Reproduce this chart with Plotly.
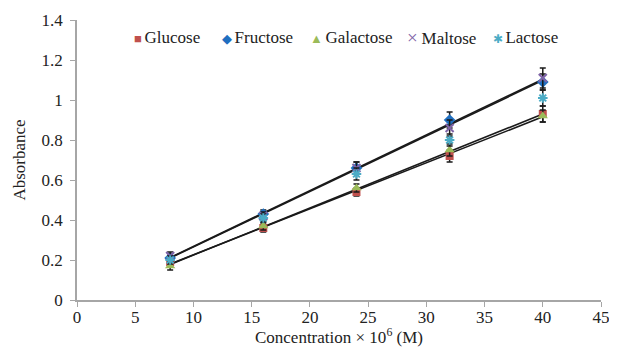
import numpy as np
import plotly.graph_objects as go

concentration = [8, 16, 24, 32, 40]
glucose = [0.19, 0.36, 0.54, 0.72, 0.93]
fructose = [0.21, 0.43, 0.66, 0.90, 1.09]
galactose = [0.17, 0.37, 0.56, 0.75, 0.92]
maltose = [0.22, 0.42, 0.66, 0.86, 1.11]
lactose = [0.20, 0.41, 0.63, 0.80, 1.01]

glucose_err = [0.02, 0.02, 0.02, 0.03, 0.04]
fructose_err = [0.02, 0.02, 0.03, 0.04, 0.04]
galactose_err = [0.02, 0.02, 0.02, 0.03, 0.03]
maltose_err = [0.02, 0.02, 0.03, 0.04, 0.05]
lactose_err = [0.02, 0.02, 0.03, 0.03, 0.04]

x_ticks = [0, 5, 10, 15, 20, 25, 30, 35, 40, 45]
y_ticks = [0, 0.2, 0.4, 0.6, 0.8, 1, 1.2, 1.4]
y_tick_labels = ["0", "0.2", "0.4", "0.6", "0.8", "1", "1.2", "1.4"]

series = [
    ("Glucose", glucose, glucose_err, "#C0504D", "square", 8, 0, "■", 13),
    ("Fructose", fructose, fructose_err, "#1F6FC0", "diamond", 9, 0, "◆", 13),
    ("Galactose", galactose, galactose_err, "#9BBB59", "triangle-up", 9, 0, "▲", 13),
    ("Maltose", maltose, maltose_err, "#7F64A8", "x-thin-open", 8, 2, "×", 19),
    ("Lactose", lactose, lactose_err, "#4BACC6", "asterisk-open", 8, 2, "✱", 12),
]
legend_x = [0.105, 0.273, 0.441, 0.626, 0.790]

FONT = "Liberation Serif, Times New Roman, Times, serif"

fig = go.Figure()

# trendlines (least squares fits, as in the spreadsheet chart)
for name, vals in [("Glucose", glucose), ("Galactose", galactose),
                   ("Fructose", fructose), ("Maltose", maltose)]:
    m, b = np.polyfit(concentration, vals, 1)
    xs = [concentration[0], concentration[-1]]
    fig.add_trace(go.Scatter(x=xs, y=[m * v + b for v in xs], mode="lines",
                             line=dict(color="#1a1a1a", width=1.6),
                             showlegend=False, hoverinfo="skip"))

for (name, vals, err, color, sym, size, lw, glyph, gsize), lx in zip(series, legend_x):
    marker = dict(color=color, symbol=sym, size=size)
    if lw:
        marker["line"] = dict(color=color, width=lw)
    fig.add_trace(go.Scatter(
        x=concentration, y=vals, mode="markers", name=name,
        marker=marker, showlegend=False,
        error_y=dict(type="data", array=err, visible=True,
                     color="#1a1a1a", thickness=1.5, width=3),
    ))
    fig.add_annotation(
        xref="paper", yref="paper", x=lx, y=0.939, xanchor="left", yanchor="middle",
        showarrow=False,
        text=f"<span style='color:{color};font-size:{gsize}px'>{glyph}\u2009</span>{name}",
        font=dict(size=17, family=FONT, color="#222"),
    )

fig.update_layout(
    width=609, height=339,
    margin=dict(l=69, r=16, t=12, b=47),
    paper_bgcolor="white", plot_bgcolor="white",
    font=dict(family=FONT, size=17, color="#222"),
    showlegend=False,
    xaxis=dict(range=[0, 45], tickvals=x_ticks, showgrid=False, zeroline=False,
               showline=True, linecolor="#a6a6a6", linewidth=1.5,
               ticks="outside", tickcolor="#a6a6a6", ticklen=5,
               ticklabelstandoff=-4,
               automargin=False, tickfont=dict(size=17),
               title=dict(text="Concentration × 10<sup>6</sup> (M)", standoff=2,
                          font=dict(size=17))),
    yaxis=dict(range=[0, 1.4], tickvals=y_ticks, ticktext=y_tick_labels,
               showgrid=False, zeroline=False,
               showline=True, linecolor="#a6a6a6", linewidth=1.5,
               ticks="outside", tickcolor="#a6a6a6", ticklen=5,
               ticklabelstandoff=4, automargin=False, tickfont=dict(size=17),
               title=dict(text="Absorbance", standoff=12, font=dict(size=17))),
)

fig.write_html("out.html")
